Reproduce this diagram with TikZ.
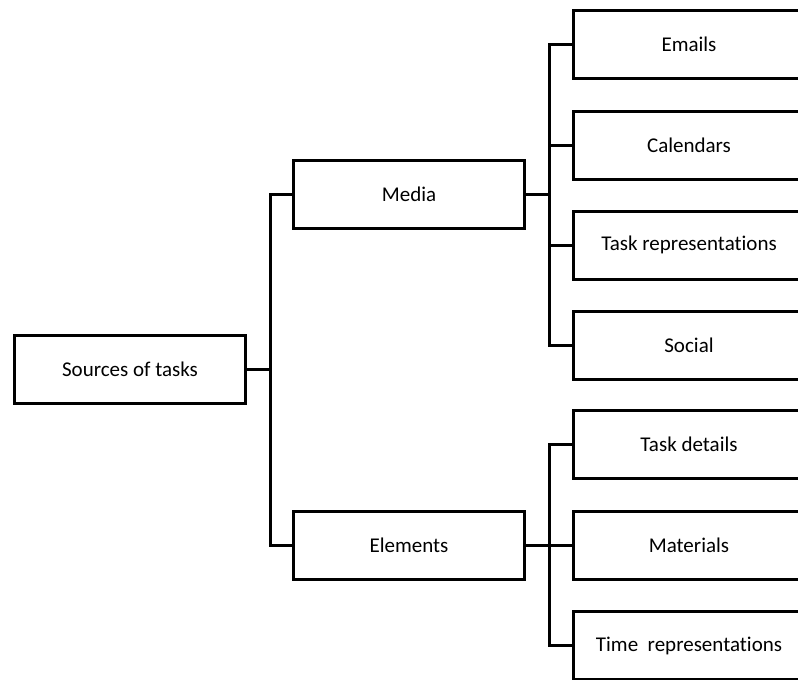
\documentclass[tikz,border=0pt]{standalone}
\usepackage{fontspec}
\setmainfont{Carlito}[RawFeature={-liga;-clig;-dlig}]
\begin{document}
\begin{tikzpicture}[x=1pt,y=-1pt,
  box/.style={draw=black, line width=3pt, rectangle, minimum width=231pt,
    minimum height=68pt, inner sep=0pt, font=\fontsize{21}{25}\selectfont},
  link/.style={draw=black, line width=3pt}]
\clip (0,0) rectangle (798,680);
% root and first level
\node[box] (src)   at (130,369.5) {Sources of tasks};
\node[box] (media) at (409,194.5) {Media};
\node[box] (elem)  at (409,545)   {Elements};
% media children
\node[box] (emails)  at (689,44.5)  {Emails};
\node[box] (cal)     at (689,145)   {Calendars};
\node[box] (taskrep) at (689,245)   {Task representations};
\node[box] (social)  at (689,345)   {Social};
% element children
\node[box] (details)   at (689,444.5) {Task details};
\node[box] (materials) at (689,545.5) {Materials};
\node[box] (timerep)   at (689,645.5) {Time~ representations};
% trunk from the root
\draw[link] (media.west) -- ++(-22,0) coordinate (trunk) |- (elem.west);
\draw[link] (src.east) -- (src.east -| trunk);
% bus for media
\draw[link] (emails.west) -- ++(-23,0) coordinate (busA) |- (social.west);
\draw[link] (cal.west) -- (cal.west -| busA);
\draw[link] (taskrep.west) -- (taskrep.west -| busA);
\draw[link] (media.east) -- (media.east -| busA);
% bus for elements
\draw[link] (details.west) -- ++(-23,0) coordinate (busB) |- (timerep.west);
\draw[link] (materials.west) -- (materials.west -| busB);
\draw[link] (elem.east) -- (elem.east -| busB);
\end{tikzpicture}
\end{document}
